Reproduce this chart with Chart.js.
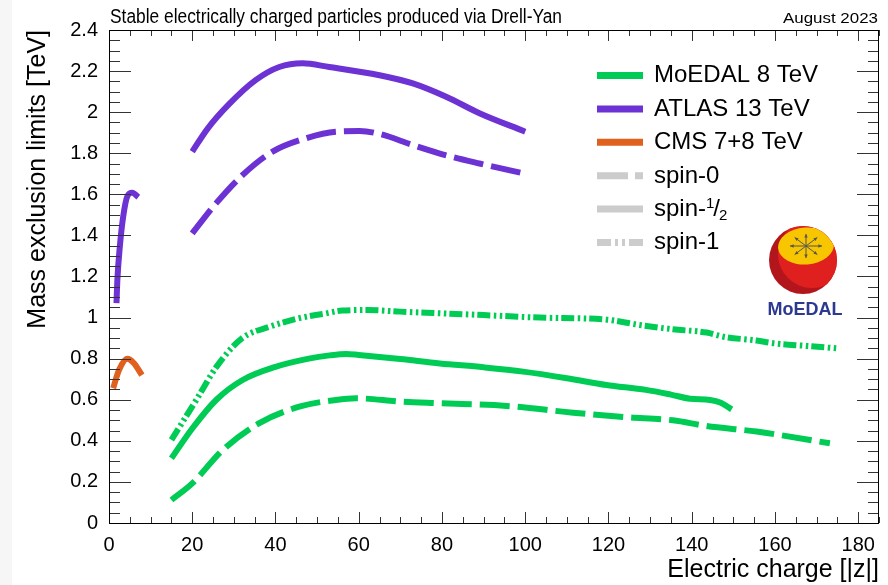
<!DOCTYPE html>
<html>
<head>
<meta charset="utf-8">
<script src="https://cdn.jsdelivr.net/npm/chart.js@4.4.1/dist/chart.umd.min.js"></script>
<style>
  html, body { margin: 0; padding: 0; background: #fff; }
  #wrap { width: 888px; height: 585px; }
</style>
</head>
<body>
<div id="wrap"><canvas id="chart" width="888" height="585"></canvas></div>
<script>
// values (charge |z|, mass limit in TeV)
const moedalSpin1Q = [15, 21, 25.8, 32, 38.5, 45.7, 52, 56, 62, 70, 79.5, 90, 103.5, 119.5, 127.5, 135.5, 143.6, 147.6, 155.6, 159.6, 167.6, 175];
const moedalSpin1M = [0.405, 0.60, 0.76, 0.90, 0.955, 0.997, 1.02, 1.034, 1.037, 1.029, 1.021, 1.012, 1.0, 0.99, 0.964, 0.943, 0.927, 0.907, 0.888, 0.875, 0.862, 0.85];

const moedalHalfQ = [15, 20, 25.8, 32, 40, 48, 53, 57, 60, 70, 79.5, 90, 99.5, 110, 119.5, 129, 135, 139.6, 144.4, 147, 149.6];
const moedalHalfM = [0.315, 0.46, 0.60, 0.695, 0.76, 0.80, 0.816, 0.823, 0.818, 0.798, 0.777, 0.758, 0.737, 0.705, 0.672, 0.648, 0.625, 0.605, 0.599, 0.585, 0.553];

const moedalSpin0Q = [15, 20, 27.3, 36, 45.7, 54.5, 59.4, 70, 79.5, 95.5, 111.5, 124.3, 135.5, 143.6, 155.6, 173.2];
const moedalSpin0M = [0.112, 0.193, 0.355, 0.485, 0.566, 0.599, 0.607, 0.591, 0.583, 0.57, 0.537, 0.515, 0.50, 0.472, 0.445, 0.388];

const atlasHalfQ = [20, 23.7, 28.9, 35.3, 40.9, 46.5, 52.9, 65, 73, 81, 89, 100];
const atlasHalfM = [1.808, 1.92, 2.04, 2.157, 2.22, 2.238, 2.22, 2.18, 2.14, 2.075, 1.995, 1.905];

const atlasSpin0Q = [20, 25.7, 32.1, 39.3, 47.3, 54.5, 60.2, 65, 73, 81, 89, 100];
const atlasSpin0M = [1.41, 1.556, 1.694, 1.808, 1.873, 1.905, 1.908, 1.894, 1.84, 1.79, 1.75, 1.70];

const atlasLowQ = [1.8, 2.0, 2.6, 3.4, 4.4, 5.6, 7.05];
const atlasLowM = [1.07, 1.18, 1.345, 1.49, 1.59, 1.608, 1.586];

const cmsQ = [1, 2.4, 4.4, 6, 7.9];
const cmsM = [0.656, 0.745, 0.80, 0.778, 0.72];

const legendLabels = ["MoEDAL 8 TeV", "ATLAS 13 TeV", "CMS 7+8 TeV", "spin-0", "spin-", "spin-1"];

const GREEN = "#00cc55";
const PURPLE = "#6c32d4";
const ORANGE = "#e0601e";
const GREY = "#cccccc";
const DASH0 = [30, 8];
const DASH1 = [13, 3.5, 2.5, 3.5, 2.5, 3];
const FONT = "'Liberation Sans', Arial, Helvetica, sans-serif";

function pts(q, m) {
    return q.map((v, i) => ({ x: v, y: m[i] }));
}

function line(q, m, color, dash) {
    return {
        data: pts(q, m),
        borderColor: color,
        borderWidth: 6,
        borderDash: dash,
        borderCapStyle: "butt",
        cubicInterpolationMode: "monotone",
        pointRadius: 0,
        fill: false
    };
}

function fitText(ctx, str, x, y, font, width, align) {
    ctx.font = font;
    const w = ctx.measureText(str).width;
    ctx.save();
    ctx.translate(x, y);
    ctx.scale(width / w, 1);
    ctx.textAlign = align;
    ctx.textBaseline = "alphabetic";
    ctx.fillStyle = "#000";
    ctx.fillText(str, 0, 0);
    ctx.restore();
}

function drawLogo(ctx) {
    const cx = 803, cy = 260, r = 34;
    ctx.save();
    ctx.beginPath();
    ctx.arc(cx, cy, r, 0, Math.PI * 2);
    ctx.fillStyle = "#b2161c";
    ctx.fill();
    ctx.clip();
    ctx.beginPath();
    ctx.arc(cx + 9, cy - 6, r, 0, Math.PI * 2);
    ctx.fillStyle = "#e0201f";
    ctx.fill();
    ctx.beginPath();
    ctx.ellipse(cx + 3, cy - 14, 28, 18.5, -0.08, 0, Math.PI * 2);
    ctx.fillStyle = "#f7c600";
    ctx.fill();
    ctx.restore();

    // little arrows from the centre of the yellow face
    const ax = cx + 3, ay = cy - 14;
    ctx.strokeStyle = "#555";
    ctx.fillStyle = "#555";
    ctx.lineWidth = 1;
    for (let k = 0; k < 8; k++) {
        const a = k * Math.PI / 4;
        const ex = ax + Math.cos(a) * 16, ey = ay + Math.sin(a) * 12;
        ctx.beginPath();
        ctx.moveTo(ax, ay);
        ctx.lineTo(ex, ey);
        ctx.stroke();
        const ang = Math.atan2(ey - ay, ex - ax);
        ctx.beginPath();
        ctx.moveTo(ex, ey);
        ctx.lineTo(ex - 4 * Math.cos(ang - 0.45), ey - 4 * Math.sin(ang - 0.45));
        ctx.lineTo(ex - 4 * Math.cos(ang + 0.45), ey - 4 * Math.sin(ang + 0.45));
        ctx.closePath();
        ctx.fill();
    }

    ctx.font = "bold 18px " + FONT;
    ctx.fillStyle = "#2b3990";
    ctx.textAlign = "center";
    ctx.textBaseline = "alphabetic";
    ctx.fillText("MoEDAL", 805, 315);
}

const decor = {
    id: "decor",
    beforeDraw(chart) {
        const ctx = chart.ctx;
        ctx.save();
        ctx.fillStyle = "#fff";
        ctx.fillRect(0, 0, chart.width, chart.height);
        ctx.fillStyle = "#f6f6f6";
        ctx.fillRect(0, 0, 12, chart.height);
        ctx.restore();
    },
    afterDraw(chart) {
        const ctx = chart.ctx;
        const { left, right, top, bottom } = chart.chartArea;
        const xs = chart.scales.x, ys = chart.scales.y;

        ctx.save();
        ctx.strokeStyle = "#333";
        ctx.lineWidth = 1;
        ctx.beginPath();
        for (let q = 0; q <= 185; q += 5) {
            const px = Math.round(xs.getPixelForValue(q)) + 0.5;
            const len = q % 20 === 0 ? 11 : 6;
            ctx.moveTo(px, bottom); ctx.lineTo(px, bottom - len);
            ctx.moveTo(px, top); ctx.lineTo(px, top + len);
        }
        for (let k = 0; k <= 48; k++) {
            const py = Math.round(ys.getPixelForValue(k * 0.05)) + 0.5;
            const len = k % 4 === 0 ? 22 : 11;
            ctx.moveTo(left, py); ctx.lineTo(left + len, py);
            ctx.moveTo(right, py); ctx.lineTo(right - len, py);
        }
        ctx.stroke();
        ctx.strokeStyle = "#000";
        ctx.strokeRect(left + 0.5, top + 0.5, right - left - 1, bottom - top);
        ctx.restore();

        // legend
        const colors = [GREEN, PURPLE, ORANGE, GREY, GREY, GREY];
        const dashes = [[], [], [], [31, 7], [], [14, 4, 3, 4, 3, 4]];
        ctx.save();
        legendLabels.forEach((label, i) => {
            const y = 75.5 + 33.4 * i;
            ctx.strokeStyle = colors[i];
            ctx.lineWidth = 7;
            ctx.lineCap = "butt";
            ctx.setLineDash(dashes[i]);
            ctx.beginPath();
            ctx.moveTo(597, y);
            ctx.lineTo(643, y);
            ctx.stroke();
            ctx.setLineDash([]);
            ctx.font = "24px " + FONT;
            ctx.fillStyle = "#000";
            ctx.textAlign = "left";
            ctx.textBaseline = "alphabetic";
            ctx.fillText(label, 654, y + 6.8);
            if (i === 4) {
                // spin-1/2 written as a raised 1, slash, lowered 2
                let x = 654 + ctx.measureText(label).width;
                ctx.font = "15px " + FONT;
                ctx.fillText("1", x, y - 1);
                x += ctx.measureText("1").width - 1;
                ctx.font = "24px " + FONT;
                ctx.fillText("/", x, y + 6.8);
                x += ctx.measureText("/").width - 1;
                ctx.font = "15px " + FONT;
                ctx.fillText("2", x, y + 11);
            }
        });
        ctx.restore();

        drawLogo(ctx);

        fitText(ctx, "Stable electrically charged particles produced via Drell-Yan", 110, 23, "20px " + FONT, 452, "left");
        fitText(ctx, "August 2023", 878, 23, "15px " + FONT, 95, "right");
    }
};

new Chart(document.getElementById("chart"), {
    type: "line",
    data: {
        datasets: [
            line(moedalSpin1Q, moedalSpin1M, GREEN, DASH1),
            line(moedalHalfQ, moedalHalfM, GREEN, []),
            line(moedalSpin0Q, moedalSpin0M, GREEN, DASH0),
            line(atlasHalfQ, atlasHalfM, PURPLE, []),
            line(atlasSpin0Q, atlasSpin0M, PURPLE, DASH0),
            line(atlasLowQ, atlasLowM, PURPLE, []),
            line(cmsQ, cmsM, ORANGE, [])
        ]
    },
    options: {
        responsive: false,
        animation: false,
        devicePixelRatio: 1,
        layout: { padding: { top: 30, right: 9, left: 0, bottom: 0 } },
        plugins: {
            legend: { display: false },
            tooltip: { enabled: false }
        },
        scales: {
            x: {
                type: "linear",
                min: 0,
                max: 185,
                grid: { display: false, drawTicks: false },
                border: { display: false },
                ticks: {
                    stepSize: 20,
                    includeBounds: false,
                    padding: 10,
                    color: "#000",
                    font: { size: 20, family: FONT },
                    maxRotation: 0
                },
                title: {
                    display: true,
                    text: "Electric charge [|z|]",
                    align: "end",
                    color: "#000",
                    font: { size: 25, family: FONT },
                    padding: { top: 0, bottom: 0 }
                },
                afterFit: s => { s.height = 62; }
            },
            y: {
                min: 0,
                max: 2.4,
                grid: { display: false, drawTicks: false },
                border: { display: false },
                ticks: {
                    stepSize: 0.2,
                    includeBounds: false,
                    padding: 11,
                    color: "#000",
                    font: { size: 20, family: FONT },
                    callback: v => String(Number(v.toFixed(1)))
                },
                title: {
                    display: true,
                    text: "Mass exclusion limits [TeV]",
                    align: "end",
                    color: "#000",
                    font: { size: 25, family: FONT },
                    padding: { top: 23, bottom: 0 }
                },
                afterFit: s => { s.width = 109; }
            }
        }
    },
    plugins: [decor]
});
</script>
</body>
</html>
